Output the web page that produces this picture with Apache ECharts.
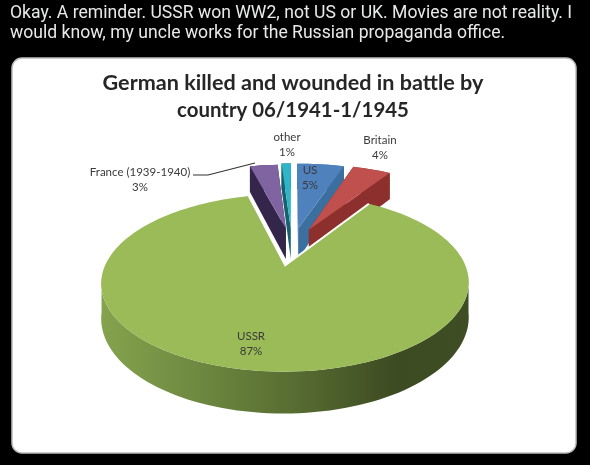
<!DOCTYPE html>
<html>
<head>
<meta charset="utf-8">
<style>html,body{margin:0;padding:0;background:#000}#c{width:590px;height:465px}</style>
<script src="https://cdn.jsdelivr.net/npm/echarts@6/dist/echarts.min.js"></script>
</head>
<body>
<div id="c"></div>
<script>
// Data, clockwise from 12 o'clock
const categories = ['US', 'Britain', 'USSR', 'France (1939-1940)', 'other'];
const values = [5, 4, 87, 3, 1];

// Styles and layout
const topColors = ['#4f81bd', '#c0504d', '#9bbb59', '#8064a2', '#2fb4c8'];
const wallColors = ['#3a6f9f', '#8c2f2d', '#566b30', '#33264a', '#17606e'];
const paintOrder = [0, 3, 4, 1, 2];
const labelPos = [[310, 178], [380, 148], [251, 344], [140, 180], [287, 145]];
const radiusScale = [1.09, 1.1, 1, 1.07, 1.09];
const P = { cx: 292, cy: 246, rx: 172, ry: 77.7, p: 0.19, depth: 32, explode: 0.24 };

const total = values.reduce((a, b) => a + b, 0);
const startAngles = values.map((_, i) =>
  values.slice(0, i).reduce((a, b) => a + b, 0) / total * Math.PI * 2);

function project(X, Y) {
  const w = 1 / (1 - P.p * Y);
  return { x: P.cx + P.rx * X * w, y: P.cy + P.ry * Y * w, d: P.depth * w };
}
function renderSlice(params, api) {
  const i = api.value(0);
  const a0 = startAngles[i];
  const a1 = a0 + api.value(1) / total * Math.PI * 2;
  const mid = (a0 + a1) / 2;
  const r = radiusScale[i];
  const ox = Math.sin(mid) * P.explode, oy = -Math.cos(mid) * P.explode;
  const n = Math.max(4, Math.ceil((a1 - a0) / (Math.PI / 90)));
  const rim = [];
  for (let k = 0; k <= n; k++) {
    const t = a0 + (a1 - a0) * k / n;
    rim.push(project(ox + r * Math.sin(t), oy - r * Math.cos(t)));
  }
  const apex = project(ox, oy);
  const xy = q => [q.x, q.y];
  const low = q => [q.x, q.y + q.d];
  const wall = wallColors[i];
  const poly = (points, fill) => ({ type: 'polygon', shape: { points }, style: { fill } });
  const children = [];
  if (i === 2) {
    // near side of the large slice, with the sideways shading of the original
    const front = rim.filter(q => q.y > P.cy + 30);
    children.push(poly(front.map(xy).concat(front.map(low).reverse()), {
      type: 'linear', x: 0, y: 0, x2: 1, y2: 0,
      colorStops: [
        { offset: 0, color: '#85a34e' }, { offset: 0.25, color: '#6f8a41' },
        { offset: 0.55, color: '#556a30' }, { offset: 0.8, color: '#3d4b22' },
        { offset: 1, color: '#3f4d24' }
      ]
    }));
  } else {
    children.push(poly(rim.map(xy).concat(rim.map(low).reverse()), wall));
    children.push(poly([xy(apex), xy(rim[0]), low(rim[0]), low(apex)], wall));
    children.push(poly([xy(apex), xy(rim[n]), low(rim[n]), low(apex)], wall));
  }
  children.push(poly([xy(apex)].concat(rim.map(xy)), topColors[i]));
  if (i === 2) {
    children.push({
      type: 'polyline',
      shape: { points: [xy(rim[n]), xy(apex), xy(rim[0])] },
      style: { stroke: '#fff', lineWidth: 2, fill: null }
    });
  }
  children.push({
    type: 'text', x: labelPos[i][0], y: labelPos[i][1], z2: 20,
    style: {
      text: categories[i] + '\n' + api.value(1) + '%', align: 'center', verticalAlign: 'middle',
      fontFamily: 'Lato', fontSize: 11.5, lineHeight: 15, fill: '#3a3a3a'
    }
  });
  return { type: 'group', children };
}

const chart = echarts.init(document.getElementById('c'), null, { renderer: 'canvas' });
chart.setOption({
  animation: false,
  backgroundColor: '#000',
  graphic: [
    { type: 'rect', z: -1, shape: { x: 12, y: 58, width: 564, height: 395, r: 10 },
      style: { fill: '#fff', stroke: '#bdbdbd', lineWidth: 1.5 } },
    { type: 'polyline', z: 10, shape: { points: [[193, 175], [208, 175], [255, 163]] },
      style: { stroke: '#333', lineWidth: 1.2, fill: null } }
  ],
  title: [
    { text: 'Okay. A reminder. USSR won WW2, not US or UK. Movies are not reality. I\nwould know, my uncle works for the Russian propaganda office.',
      left: 10, top: 4, padding: 0,
      textStyle: { color: '#e7e9ea', fontFamily: 'Roboto', fontSize: 17.6, fontWeight: 'normal', lineHeight: 20 } },
    { text: '{a|German killed and wounded in battle by}\n{b|country 06/1941-1/1945}',
      left: 293, top: 70, padding: 0, textAlign: 'center',
      textStyle: {
        rich: {
          a: { color: '#262626', fontFamily: 'Lato', fontSize: 21.6, fontWeight: 'bold', lineHeight: 27 },
          b: { color: '#262626', fontFamily: 'Lato', fontSize: 20.4, fontWeight: 'bold', lineHeight: 27 }
        }
      } }
  ],
  series: [{
    type: 'custom',
    coordinateSystem: 'none',
    renderItem: renderSlice,
    data: paintOrder.map(i => [i, values[i]])
  }]
});
</script>
</body>
</html>
